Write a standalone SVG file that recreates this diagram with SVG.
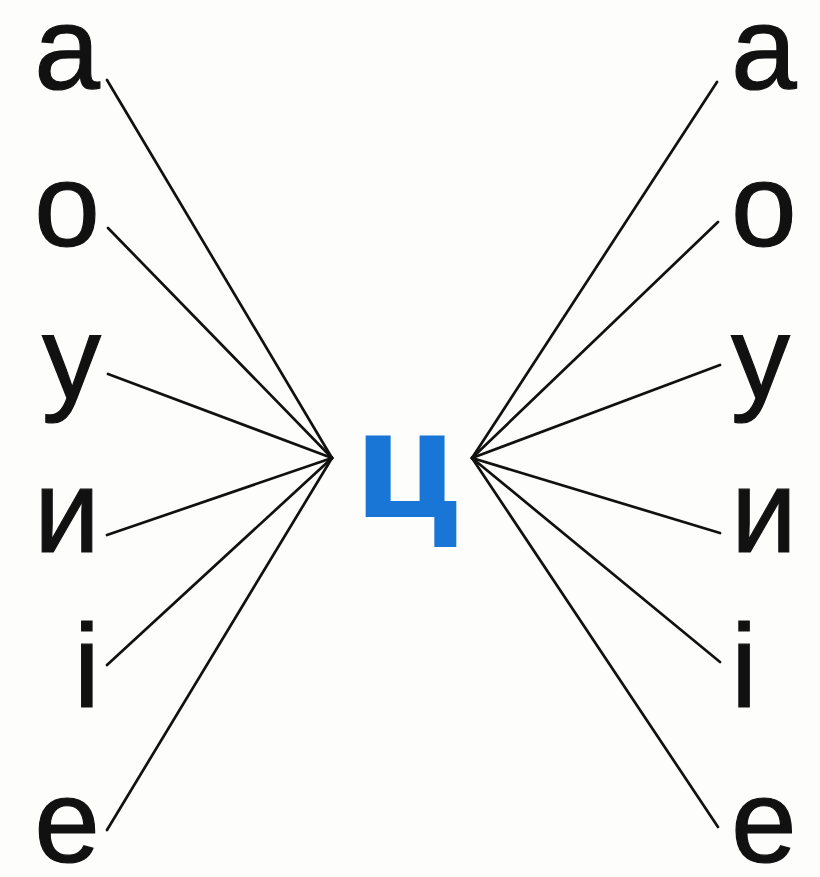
<svg xmlns="http://www.w3.org/2000/svg" width="820" height="877" viewBox="0 0 820 877">
<style>
.l{font-family:"Liberation Sans",Arial,sans-serif;font-size:118px;fill:#111;stroke:#111;stroke-width:1.2}
.c{font-family:"Liberation Sans",Arial,sans-serif;font-size:150px;font-weight:bold;fill:#1976d6;stroke:#1976d6;stroke-width:2}
.k{stroke:#111;stroke-width:2.7;fill:none;stroke-linecap:round}
</style>
<rect width="820" height="877" fill="#fdfdfc"/>
<g id="center"><text class="c" transform="translate(406 516) scale(1.1 1)" x="0" y="0" text-anchor="middle">ц</text></g>
<g id="left-a"><text class="l" x="100" y="89" text-anchor="end">а</text></g>
<g id="left-o"><text class="l" x="100" y="246" text-anchor="end">о</text></g>
<g id="left-u"><text class="l" x="101" y="398" text-anchor="end">у</text></g>
<g id="left-y"><text class="l" x="100" y="552" text-anchor="end">и</text></g>
<g id="left-i"><text class="l" x="100" y="707" text-anchor="end">і</text></g>
<g id="left-e"><text class="l" x="100" y="862" text-anchor="end">е</text></g>
<g id="right-a"><text class="l" x="731" y="89">а</text></g>
<g id="right-o"><text class="l" x="731" y="246">о</text></g>
<g id="right-u"><text class="l" x="731" y="398">у</text></g>
<g id="right-y"><text class="l" x="731" y="552">и</text></g>
<g id="right-i"><text class="l" x="731" y="707">і</text></g>
<g id="right-e"><text class="l" x="731" y="862">е</text></g>
<g id="connectors" class="k">
<line x1="107" y1="80" x2="332" y2="458"/>
<line x1="108" y1="228" x2="332" y2="458"/>
<line x1="108" y1="374" x2="332" y2="458"/>
<line x1="107" y1="535" x2="332" y2="458"/>
<line x1="107" y1="665" x2="332" y2="458"/>
<line x1="107" y1="830" x2="332" y2="458"/>
<line x1="717" y1="82" x2="472" y2="458"/>
<line x1="718" y1="222" x2="472" y2="458"/>
<line x1="720" y1="365" x2="472" y2="458"/>
<line x1="720" y1="533" x2="472" y2="458"/>
<line x1="720" y1="662" x2="472" y2="458"/>
<line x1="718" y1="827" x2="472" y2="458"/>
</g>
</svg>
